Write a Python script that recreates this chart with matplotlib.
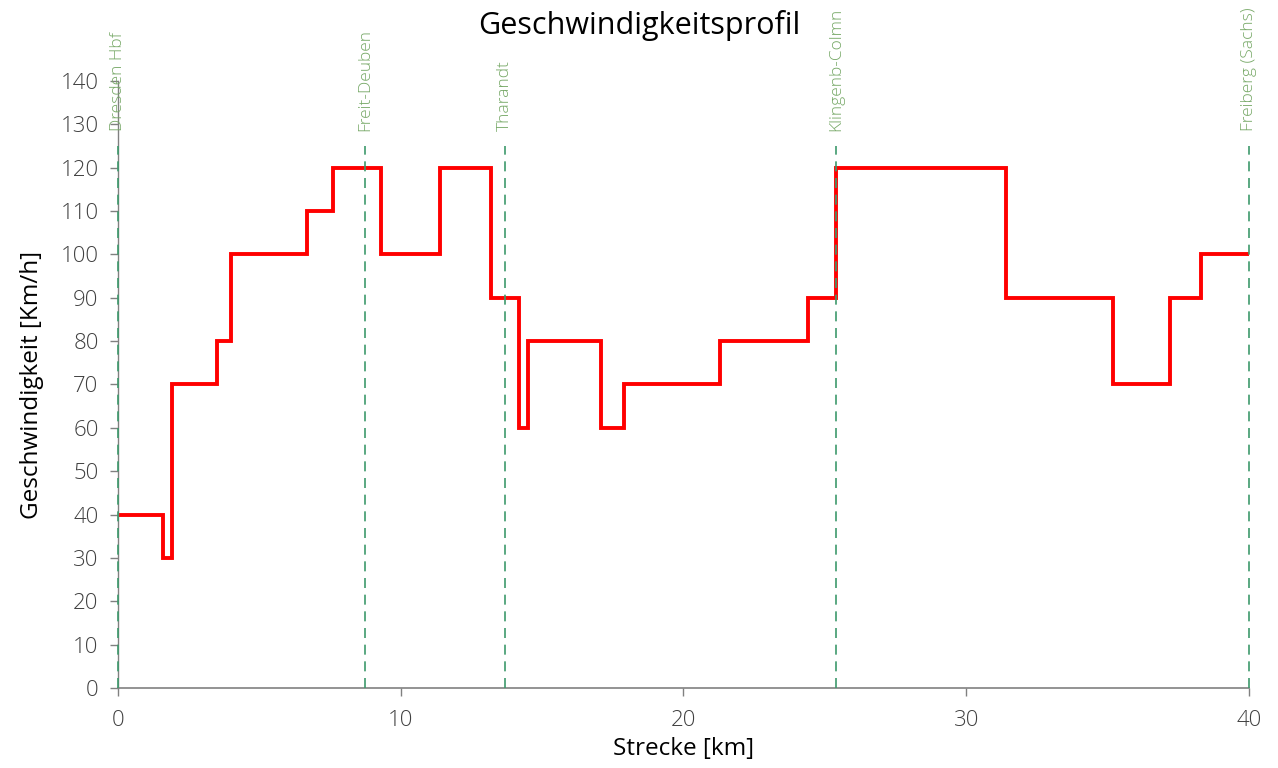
import matplotlib
matplotlib.use('Agg')
import matplotlib.pyplot as plt

# Streckenabschnitte (km) und zulaessige Geschwindigkeit (km/h)
km_grenzen = [0, 1.6, 1.9, 3.5, 4.0, 6.7, 7.6, 9.3, 11.4, 13.2, 14.2, 14.5,
              17.1, 17.9, 21.3, 24.4, 25.4, 31.4, 35.2, 37.2, 38.3, 40.0]
geschw = [40, 30, 70, 80, 100, 110, 120, 100, 120, 90, 60, 80,
          60, 70, 80, 90, 120, 90, 70, 90, 100]

bahnhoefe = ['Dresden Hbf', 'Freit-Deuben', 'Tharandt', 'Klingenb-Colmn', 'Freiberg (Sachs)']
bahnhof_km = [0, 8.73, 13.69, 25.39, 40.0]

plt.rcParams['font.family'] = ['Open Sans', 'DejaVu Sans']

fig = plt.figure(figsize=(12.78, 7.68), dpi=100)
ax = fig.add_axes([0.0923, 0.1042, 0.885, 0.7903])

ax.stairs(geschw, km_grenzen, baseline=None, color='red', linewidth=2.8, zorder=2)

for name, km in zip(bahnhoefe, bahnhof_km):
    ax.plot([km, km], [0, 125], color='#3d9a6c', linestyle=(0, (6, 4)),
            linewidth=1.2, zorder=3, clip_on=False)
    ax.text(km, 128.5, name, rotation=90, ha='center', va='bottom',
            color='#76a866', fontsize=12.5, fontweight='light', clip_on=False)

ax.set_xlim(0, 40)
ax.set_ylim(0, 140)
ax.set_xticks([0, 10, 20, 30, 40])
ax.set_yticks(range(0, 141, 10))

for s in ['top', 'right']:
    ax.spines[s].set_visible(False)
ax.spines['left'].set_color('#808080')
ax.spines['bottom'].set_color('#808080')
ax.spines['left'].set_linewidth(1.0)
ax.spines['bottom'].set_linewidth(1.2)
ax.tick_params(axis='both', colors='#808080', labelcolor='#404040',
               labelsize=16, length=6, width=1.0, direction='out')
for lbl in ax.get_xticklabels() + ax.get_yticklabels():
    lbl.set_fontweight('light')
ax.tick_params(axis='x', pad=10)
ax.tick_params(axis='y', pad=8)

ax.set_xlabel('Strecke [km]', fontsize=17.5, color='black', labelpad=4)
ax.set_ylabel('Geschwindigkeit [Km/h]', fontsize=17.5, color='black', labelpad=12)
fig.text(0.5, 0.967, 'Geschwindigkeitsprofil', ha='center', va='center',
         fontsize=22, color='black')

fig.savefig('out.png', dpi=100)
